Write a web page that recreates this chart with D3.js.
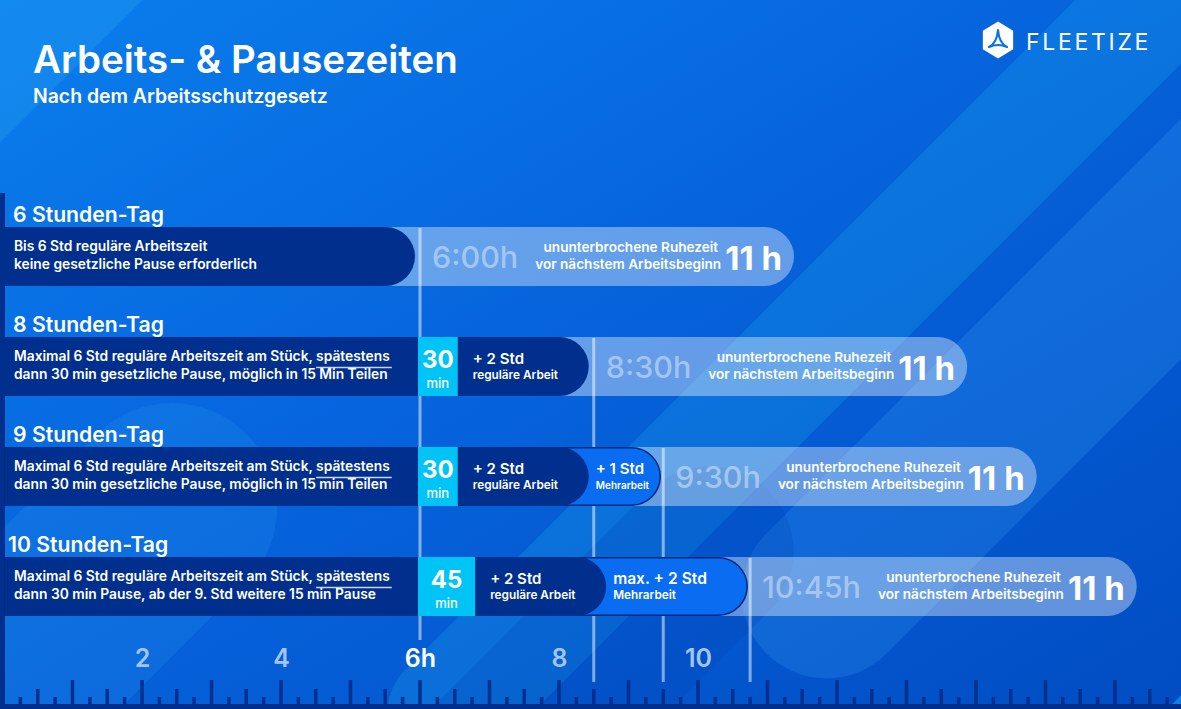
<!DOCTYPE html>
<html>
<head>
<meta charset="utf-8">
<script src="https://cdn.jsdelivr.net/npm/d3@7"></script>
<style>
  html, body { margin: 0; padding: 0; background: #0662dc; }
  svg { display: block; font-family: Inter, "Open Sans", sans-serif; }
</style>
</head>
<body>
<div id="graph"></div>
<script>
// --- data ---
var rowTitles = ["6 Stunden-Tag", "8 Stunden-Tag", "9 Stunden-Tag", "10 Stunden-Tag"];
var regularHours = [6, 6, 6, 6];
var breakMinutes = [0, 30, 30, 45];
var extraRegular = [0, 2, 2, 2];
var overtime = [0, 0, 1, 2];
var totalLabels = ["6:00h", "8:30h", "9:30h", "10:45h"];
var restLabel = "11 h";
var descLine1 = [
  "Bis 6 Std reguläre Arbeitszeit",
  "Maximal 6 Std reguläre Arbeitszeit am Stück, spätestens",
  "Maximal 6 Std reguläre Arbeitszeit am Stück, spätestens",
  "Maximal 6 Std reguläre Arbeitszeit am Stück, spätestens"
];
var descLine2 = [
  "keine gesetzliche Pause erforderlich",
  "dann 30 min gesetzliche Pause, möglich in 15 Min Teilen",
  "dann 30 min gesetzliche Pause, möglich in 15 min Teilen",
  "dann 30 min Pause, ab der 9. Std weitere 15 min Pause"
];
var underlined = ["", "spätestens", "spätestens", "spätestens"];
var extraLabel = ["", "+ 2 Std", "+ 2 Std", "+ 2 Std"];
var overtimeLabel = ["", "", "+ 1 Std", "max. + 2 Std"];
var axisTicks = [2, 4, 6, 8, 10];
var axisLabels = ["2", "4", "6h", "8", "10"];

var W = 1181, H = 709;
var navy = "#012f8e", cyan = "#00c4f6", blue = "#0a6cf0";

var svg = d3.select("#graph").append("svg").attr("width", W).attr("height", H);

var x = d3.scaleLinear().domain([0, 16]).range([3, 3 + 69.5 * 16]);
var rowY = d3.scaleLinear().domain([0, 1]).range([227, 337]);
var barH = 59;

// --- background ---
var defs = svg.append("defs");
var g = defs.append("linearGradient").attr("id", "bg")
  .attr("x1", 0).attr("y1", 0).attr("x2", 1).attr("y2", 1);
g.append("stop").attr("offset", 0).attr("stop-color", "#0a7eec");
g.append("stop").attr("offset", 0.45).attr("stop-color", "#0664dd");
g.append("stop").attr("offset", 1).attr("stop-color", "#014cc2");
svg.append("rect").attr("width", W).attr("height", H).attr("fill", "url(#bg)");

var deco = svg.append("g");
function band(cx, cy, len, wid, fill, op) {
  deco.append("rect")
    .attr("x", -len / 2).attr("y", -wid / 2).attr("width", len).attr("height", wid)
    .attr("rx", wid / 2)
    .attr("fill", fill).attr("opacity", op)
    .attr("transform", "translate(" + cx + "," + cy + ") rotate(-45)");
}
band(40, -60, 620, 230, "#2aa6f6", 0.3);
band(900, 260, 1400, 120, "#22c4f6", 0.2);
band(1120, 300, 1000, 170, "#3fa6f4", 0.22);
band(20, 660, 640, 210, "#2e9af2", 0.2);
band(1210, 730, 300, 90, "#1fb0f4", 0.5);
band(500, 760, 760, 170, "#0040b0", 0.22);

// left strip
svg.append("rect").attr("x", 0).attr("y", 193).attr("width", 5).attr("height", H - 193).attr("fill", navy);

// --- title + logo ---
svg.append("text").attr("x", 33).attr("y", 73).text("Arbeits- & Pausezeiten")
  .attr("fill", "#fff").attr("font-size", 38.5).attr("font-weight", 600);
svg.append("text").attr("x", 33).attr("y", 103).text("Nach dem Arbeitsschutzgesetz")
  .attr("fill", "#fff").attr("font-size", 19.4).attr("font-weight", 600);

var logo = svg.append("g").attr("transform", "translate(998,40)");
var hex = d3.range(6).map(function(i) {
  var a = Math.PI / 3 * i - Math.PI / 2;
  return [17.5 * Math.cos(a), 18.5 * Math.sin(a)];
});
logo.append("path").attr("d", "M" + hex.join("L") + "Z").attr("fill", "#fff");
logo.append("path")
  .attr("d", "M0,-10 Q1,3 9,7 Q0,3 -9,7 Q-1,3 0,-10Z")
  .attr("fill", "none").attr("stroke", "#0a72e6").attr("stroke-width", 2.2).attr("stroke-linejoin", "round");
svg.append("text").attr("x", 1026).attr("y", 50).text("FLEETIZE")
  .attr("fill", "#fff").attr("font-size", 23).attr("font-weight", 400).attr("letter-spacing", 2.7);

// pill with square left end and round right end
function pill(x0, x1, y, h) {
  var r = h / 2;
  return "M" + x0 + "," + y + "H" + (x1 - r) +
    "A" + r + "," + r + " 0 0 1 " + (x1 - r) + "," + (y + h) + "H" + x0 + "Z";
}

var rows = rowTitles.map(function(t, i) {
  var b = breakMinutes[i] / 60;
  var darkEnd = regularHours[i] + b + extraRegular[i];
  return { i: i, title: t, b: b, darkEnd: darkEnd, total: darkEnd + overtime[i] };
});

var layerLight = svg.append("g"), layerLines = svg.append("g"),
  layerBars = svg.append("g"), layerText = svg.append("g");

// --- light rest pills ---
rows.forEach(function(d) {
  var top = rowY(d.i), L = x(d.total);
  var lp = layerLight.append("path").attr("fill", "#fff").attr("fill-opacity", 0.38);
  var lab = layerText.append("text").attr("x", L + 12).attr("y", top + 41)
    .text(totalLabels[d.i]).attr("font-size", 30.5).attr("font-weight", 500)
    .attr("fill", "#fff").attr("fill-opacity", 0.42);
  var labEnd = L + 12 + lab.node().getComputedTextLength();
  var r1 = layerText.append("text").attr("y", top + 25).text("ununterbrochene Ruhezeit");
  var r2 = layerText.append("text").attr("y", top + 42).text("vor nächstem Arbeitsbeginn");
  [r1, r2].forEach(function(s) {
    s.attr("font-size", 13.6).attr("font-weight", 600).attr("fill", "#fff").attr("text-anchor", "end");
  });
  var rw = Math.max(r1.node().getComputedTextLength(), r2.node().getComputedTextLength());
  var R = labEnd + 17 + rw;
  r1.attr("x", R - 3); r2.attr("x", R);
  var big = layerText.append("text").attr("x", R + 4).attr("y", top + 43).text(restLabel)
    .attr("font-size", 33).attr("font-weight", 700).attr("fill", "#fff");
  var end = R + 4 + big.node().getComputedTextLength() + 12;
  lp.attr("d", pill(5, end, top, barH));
});

// --- vertical guide lines ---
rows.forEach(function(d) {
  layerLines.append("line")
    .attr("x1", x(d.total)).attr("x2", x(d.total))
    .attr("y1", rowY(d.i) + 1).attr("y2", d.i === 0 ? 640 : 682)
    .attr("stroke", "#fff").attr("stroke-opacity", 0.5).attr("stroke-width", 3);
});

// --- bars ---
rows.forEach(function(d) {
  var top = rowY(d.i);
  if (overtime[d.i] > 0) {
    layerBars.append("path").attr("d", pill(5, x(d.total) - 3, top + 0.75, barH - 1.5))
      .attr("fill", blue).attr("stroke", "#00287e").attr("stroke-width", 1.5);
  }
  layerBars.append("path").attr("d", pill(5, x(d.darkEnd) - 5, top, barH)).attr("fill", navy);
  if (d.b > 0) {
    layerBars.append("rect").attr("x", x(6) - 2).attr("y", top)
      .attr("width", x(6 + d.b) - x(6) + 5).attr("height", barH).attr("fill", cyan);
  }
});

// --- bar texts ---
rows.forEach(function(d) {
  var top = rowY(d.i), i = d.i;
  layerText.append("text").attr("x", i === 3 ? 8 : 13).attr("y", top - 5).text(d.title)
    .attr("fill", "#fff").attr("font-size", 21.2).attr("font-weight", 600);

  var l1 = layerText.append("text").attr("x", 14).attr("y", top + 24).text(descLine1[i])
    .attr("fill", "#fff").attr("font-size", 13.8).attr("font-weight", 600);
  layerText.append("text").attr("x", 14).attr("y", top + 42).text(descLine2[i])
    .attr("fill", "#fff").attr("font-size", 13.8).attr("font-weight", 600);
  if (underlined[i]) {
    var s = descLine1[i], k = s.indexOf(underlined[i]), n = l1.node();
    var ux0 = 14 + n.getSubStringLength(0, k);
    var ux1 = ux0 + n.getSubStringLength(k, underlined[i].length);
    layerText.append("line").attr("x1", ux0).attr("x2", ux1 + 2)
      .attr("y1", top + 30.5).attr("y2", top + 30.5)
      .attr("stroke", "#fff").attr("stroke-opacity", 0.8).attr("stroke-width", 1.5);
  }

  if (d.b > 0) {
    var cx = (x(6) - 2 + x(6 + d.b) + 3) / 2;
    layerText.append("text").attr("x", cx).attr("y", top + 31).text(breakMinutes[i])
      .attr("text-anchor", "middle").attr("fill", "#fff").attr("font-size", 24).attr("font-weight", 700);
    layerText.append("text").attr("x", cx).attr("y", top + 51).text("min")
      .attr("text-anchor", "middle").attr("fill", "#fff").attr("font-size", 13).attr("font-weight", 500);
    var ex = x(6 + d.b) + 18;
    layerText.append("text").attr("x", ex).attr("y", top + 27).text(extraLabel[i])
      .attr("fill", "#fff").attr("font-size", 15).attr("font-weight", 600);
    layerText.append("text").attr("x", ex).attr("y", top + 42).text("reguläre Arbeit")
      .attr("fill", "#fff").attr("font-size", 11.8).attr("font-weight", 600);
  }
  if (overtime[i] > 0) {
    var ox = x(d.darkEnd) + 2;
    layerText.append("text").attr("x", ox).attr("y", top + 27).text(overtimeLabel[i])
      .attr("fill", "#fff").attr("font-size", i === 2 ? 15 : 15.6).attr("font-weight", 600);
    layerText.append("text").attr("x", ox).attr("y", top + 42).text("Mehrarbeit")
      .attr("fill", "#fff").attr("font-size", i === 2 ? 10 : 11.8).attr("font-weight", 600);
  }
});

// --- ruler ---
var ruler = svg.append("g");
ruler.selectAll("rect.tick").data(d3.range(0, 17.01, 0.25)).join("rect")
  .attr("class", "tick")
  .attr("x", function(h) { return x(h) - 1.75; })
  .attr("width", 3.5)
  .attr("y", function(h) { return 704 - (h % 1 === 0 ? 24 : h % 0.5 === 0 ? 15 : 7); })
  .attr("height", function(h) { return h % 1 === 0 ? 24 : h % 0.5 === 0 ? 15 : 7; })
  .attr("fill", navy);
ruler.append("rect").attr("x", 0).attr("y", 704).attr("width", W).attr("height", 5).attr("fill", navy);

var axis = svg.append("g").attr("transform", "translate(0,667)")
  .call(d3.axisBottom(x).tickValues(axisTicks).tickSize(0)
    .tickFormat(function(d, i) { return axisLabels[i]; }));
axis.select(".domain").remove();
axis.selectAll("text")
  .attr("y", 0).attr("dy", 0)
  .attr("font-family", "Inter, sans-serif").attr("font-size", 25).attr("font-weight", 600)
  .attr("fill", function(d) { return d === 6 ? "#fff" : "#a4c4f2"; });
</script>
</body>
</html>
